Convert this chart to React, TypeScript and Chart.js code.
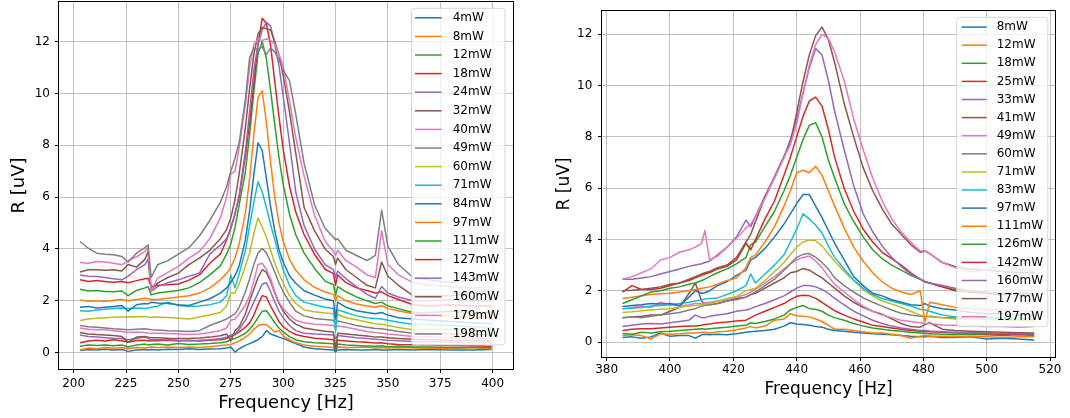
import React, { useEffect, useRef } from "react";
import { Chart, registerables } from "chart.js";

Chart.register(...registerables);

const FONT = "'DejaVu Sans', sans-serif";
const COLORS = ["#1f77b4", "#ff7f0e", "#2ca02c", "#d62728", "#9467bd", "#8c564b", "#e377c2", "#7f7f7f", "#bcbd22", "#17becf"];

// ---------------- Left panel data ----------------
const leftFreq = [203, 207, 211, 215, 219, 223, 226, 230, 234, 235.5, 237, 240, 245, 250, 255, 260, 265, 270, 273, 275, 277, 279, 282, 284, 286, 288, 290, 292, 294, 296, 298, 300, 303, 306, 310, 315, 320, 324, 325, 326, 330, 335, 340, 344, 347, 350, 355, 362, 370, 380, 390, 399.5];
const leftPowers = ["4mW", "8mW", "12mW", "18mW", "24mW", "32mW", "40mW", "49mW", "60mW", "71mW", "84mW", "97mW", "111mW", "127mW", "143mW", "160mW", "179mW", "198mW"];
const leftXTicks = [200, 225, 250, 275, 300, 325, 350, 375, 400];
const leftYTicks = [0, 2, 4, 6, 8, 10, 12];

const L4 = [0.08, 0.12, 0.10, 0.13, 0.10, 0.12, 0.05, 0.10, 0.12, 0.10, 0.12, 0.10, 0.13, 0.12, 0.15, 0.12, 0.14, 0.15, 0.18, 0.22, 0.02, 0.15, 0.28, 0.35, 0.42, 0.50, 0.62, 0.85, 0.72, 0.66, 0.60, 0.55, 0.45, 0.35, 0.22, 0.15, 0.12, 0.10, 0.04, 0.10, 0.12, 0.10, 0.10, 0.12, 0.10, 0.10, 0.12, 0.10, 0.12, 0.10, 0.10, 0.12];
const L8 = [0.10, 0.18, 0.15, 0.20, 0.17, 0.20, 0.15, 0.20, 0.18, 0.20, 0.22, 0.20, 0.22, 0.20, 0.22, 0.20, 0.23, 0.28, 0.30, 0.32, 0.38, 0.45, 0.60, 0.72, 0.90, 1.05, 1.10, 1.08, 0.95, 0.80, 0.85, 0.65, 0.50, 0.38, 0.30, 0.25, 0.23, 0.20, 0.10, 0.22, 0.20, 0.20, 0.22, 0.18, 0.20, 0.18, 0.20, 0.18, 0.17, 0.15, 0.20, 0.15];
const L12 = [0.25, 0.30, 0.28, 0.30, 0.27, 0.30, 0.22, 0.30, 0.33, 0.30, 0.32, 0.33, 0.30, 0.35, 0.32, 0.33, 0.35, 0.38, 0.42, 0.50, 0.55, 0.62, 0.75, 0.90, 1.10, 1.35, 1.60, 1.62, 1.40, 1.15, 0.95, 0.80, 0.62, 0.50, 0.42, 0.38, 0.36, 0.34, 0.02, 0.33, 0.30, 0.28, 0.26, 0.25, 0.27, 0.23, 0.25, 0.22, 0.22, 0.20, 0.20, 0.20];
const L18 = [0.38, 0.45, 0.48, 0.45, 0.50, 0.46, 0.40, 0.47, 0.48, 0.45, 0.47, 0.46, 0.48, 0.45, 0.47, 0.45, 0.48, 0.50, 0.55, 0.62, 0.70, 0.80, 0.98, 1.15, 1.45, 1.85, 2.20, 2.15, 1.80, 1.50, 1.20, 1.00, 0.82, 0.70, 0.62, 0.56, 0.53, 0.50, 0.25, 0.48, 0.45, 0.42, 0.40, 0.37, 0.38, 0.34, 0.32, 0.31, 0.30, 0.28, 0.27, 0.25];
const L24 = [0.68, 0.62, 0.60, 0.58, 0.56, 0.55, 0.50, 0.55, 0.60, 0.55, 0.50, 0.50, 0.50, 0.48, 0.47, 0.48, 0.50, 0.55, 0.60, 0.68, 0.72, 0.90, 1.25, 1.60, 1.95, 2.30, 2.65, 2.70, 2.35, 1.95, 1.60, 1.35, 1.05, 0.85, 0.75, 0.72, 0.70, 0.68, 0.55, 0.66, 0.62, 0.58, 0.55, 0.52, 0.50, 0.48, 0.46, 0.43, 0.42, 0.40, 0.38, 0.37];
const L32 = [0.78, 0.72, 0.70, 0.68, 0.66, 0.62, 0.40, 0.60, 0.62, 0.60, 0.58, 0.58, 0.56, 0.55, 0.55, 0.57, 0.60, 0.65, 0.72, 0.45, 0.85, 1.00, 1.50, 2.00, 2.45, 2.90, 3.20, 3.10, 2.75, 2.30, 1.90, 1.60, 1.30, 1.10, 0.95, 0.88, 0.83, 0.80, 0.05, 0.75, 0.72, 0.68, 0.64, 0.60, 0.60, 0.58, 0.55, 0.52, 0.50, 0.48, 0.47, 0.45];
const L40 = [0.95, 0.90, 0.88, 0.88, 0.85, 0.82, 0.78, 0.80, 0.78, 0.76, 0.75, 0.75, 0.74, 0.72, 0.70, 0.72, 0.78, 0.85, 0.95, 1.25, 1.30, 1.50, 1.85, 2.20, 2.75, 3.40, 3.45, 3.20, 2.85, 2.35, 1.95, 1.70, 1.45, 1.25, 1.15, 1.10, 1.08, 1.05, 0.95, 1.03, 0.98, 0.90, 0.82, 0.78, 0.76, 0.72, 0.68, 0.62, 0.60, 0.58, 0.56, 0.55];
const L49 = [1.05, 1.00, 0.98, 0.95, 0.92, 0.90, 0.88, 0.90, 0.92, 0.90, 0.88, 0.87, 0.85, 0.84, 0.82, 0.85, 1.05, 1.20, 1.30, 1.40, 1.50, 1.75, 2.35, 2.85, 3.40, 3.85, 4.02, 3.85, 3.50, 3.10, 2.70, 2.35, 1.95, 1.60, 1.42, 1.32, 1.28, 1.25, 1.10, 1.22, 1.15, 1.05, 0.98, 0.93, 0.92, 0.88, 0.82, 0.75, 0.75, 0.72, 0.70, 0.68];
const L60 = [1.24, 1.30, 1.33, 1.35, 1.37, 1.38, 1.39, 1.38, 1.40, 1.38, 1.37, 1.38, 1.36, 1.33, 1.30, 1.38, 1.45, 1.55, 1.80, 2.30, 2.30, 2.65, 3.35, 3.85, 4.60, 5.20, 4.85, 4.45, 3.95, 3.45, 3.05, 2.70, 2.20, 1.90, 1.65, 1.58, 1.53, 1.50, 1.30, 1.48, 1.35, 1.27, 1.18, 1.12, 1.10, 1.05, 0.97, 0.88, 0.90, 0.90, 0.88, 0.85];
const L71 = [1.62, 1.60, 1.65, 1.68, 1.70, 1.72, 1.70, 1.72, 1.70, 1.72, 1.75, 1.80, 1.95, 1.82, 1.78, 1.80, 1.85, 1.95, 2.20, 3.00, 2.50, 3.05, 3.95, 4.90, 5.80, 6.60, 6.20, 5.60, 4.95, 4.35, 3.75, 3.20, 2.60, 2.20, 1.95, 1.85, 1.75, 1.70, 0.80, 1.65, 1.55, 1.42, 1.35, 1.32, 1.30, 1.25, 1.17, 1.10, 1.08, 1.05, 1.00, 0.98];
const L84 = [1.75, 1.78, 1.72, 1.75, 1.78, 1.82, 1.60, 1.85, 1.90, 1.88, 1.95, 1.92, 1.90, 1.85, 1.82, 1.95, 2.08, 2.30, 2.50, 2.70, 2.97, 3.35, 4.37, 5.48, 6.87, 8.10, 7.80, 6.72, 5.63, 4.70, 3.97, 3.50, 2.97, 2.68, 2.39, 2.22, 2.07, 2.00, 1.30, 1.95, 1.75, 1.62, 1.55, 1.50, 1.55, 1.45, 1.35, 1.30, 1.25, 1.20, 1.15, 1.12];
const L97 = [2.03, 1.98, 2.00, 1.97, 2.02, 2.05, 2.00, 2.05, 2.10, 2.08, 2.05, 2.05, 2.10, 2.15, 2.20, 2.30, 2.50, 2.81, 3.06, 3.30, 3.65, 4.19, 5.41, 6.73, 8.40, 9.85, 10.10, 8.88, 7.34, 5.98, 5.01, 4.31, 3.60, 3.18, 2.81, 2.52, 2.34, 2.25, 2.00, 2.20, 2.00, 1.88, 1.80, 1.75, 1.82, 1.70, 1.62, 1.50, 1.45, 1.40, 1.38, 1.35];
const L111 = [2.45, 2.38, 2.40, 2.36, 2.35, 2.38, 2.20, 2.40, 2.50, 2.55, 2.23, 2.30, 2.35, 2.40, 2.50, 2.70, 3.00, 3.35, 3.80, 4.20, 4.83, 5.70, 7.00, 8.43, 10.07, 11.53, 12.00, 11.34, 10.10, 8.80, 7.53, 6.49, 5.35, 4.55, 3.84, 3.25, 2.76, 2.62, 2.20, 2.55, 2.35, 2.15, 2.00, 1.90, 1.95, 1.80, 1.70, 1.55, 1.55, 1.60, 1.55, 1.55];
const L127 = [2.81, 2.75, 2.78, 2.75, 2.72, 2.75, 2.70, 2.78, 2.85, 2.87, 2.55, 2.60, 2.62, 2.65, 2.80, 3.00, 3.45, 3.80, 4.35, 4.80, 5.35, 6.00, 7.60, 8.90, 10.40, 11.90, 12.90, 12.70, 11.85, 10.45, 9.10, 7.85, 6.43, 5.43, 4.55, 3.79, 3.22, 3.05, 2.60, 3.00, 2.70, 2.50, 2.40, 2.30, 2.35, 2.20, 2.05, 1.85, 1.80, 1.85, 1.80, 1.80];
const L143 = [3.00, 2.95, 2.94, 2.90, 2.85, 2.81, 2.95, 3.20, 3.40, 3.60, 2.36, 2.55, 2.70, 2.81, 2.95, 3.07, 3.80, 4.15, 4.40, 4.80, 5.35, 6.10, 7.80, 9.30, 10.90, 11.90, 12.45, 12.75, 12.60, 11.90, 11.07, 9.90, 8.10, 6.20, 4.90, 4.00, 3.40, 3.20, 2.90, 3.15, 2.85, 2.55, 2.25, 2.10, 2.55, 2.30, 2.15, 2.00, 2.00, 2.05, 2.00, 2.00];
const L160 = [3.11, 3.20, 3.20, 3.18, 3.20, 3.15, 3.40, 3.30, 3.60, 3.90, 2.42, 2.68, 2.90, 3.07, 3.40, 3.65, 3.95, 4.40, 4.75, 5.20, 5.90, 6.90, 8.70, 10.20, 11.50, 12.30, 12.55, 12.50, 12.45, 12.00, 11.50, 10.70, 9.30, 7.70, 5.60, 4.70, 4.00, 3.70, 3.40, 3.65, 3.20, 2.90, 2.60, 2.50, 3.50, 2.95, 2.60, 2.20, 2.20, 2.20, 2.30, 2.40];
const L179 = [3.48, 3.45, 3.52, 3.50, 3.45, 3.39, 3.55, 3.70, 3.91, 4.05, 2.36, 2.87, 3.10, 3.33, 3.65, 3.90, 4.40, 5.20, 6.00, 6.90, 7.00, 7.90, 9.60, 11.00, 11.90, 12.10, 12.05, 12.10, 12.05, 11.90, 11.50, 11.07, 9.70, 8.30, 6.80, 5.30, 4.30, 3.90, 3.75, 3.95, 3.55, 3.30, 3.00, 2.90, 4.70, 3.40, 3.00, 2.70, 2.60, 2.55, 2.50, 2.55];
const L198 = [4.29, 4.03, 3.84, 3.80, 3.78, 3.71, 3.50, 3.84, 4.05, 4.16, 2.90, 3.39, 3.55, 3.80, 4.05, 4.50, 5.10, 5.80, 6.40, 7.00, 7.50, 8.10, 9.80, 11.40, 11.75, 11.70, 11.80, 11.50, 11.75, 11.60, 11.30, 10.90, 10.50, 9.20, 7.30, 5.70, 4.80, 4.45, 4.35, 4.40, 3.95, 3.75, 3.55, 3.75, 5.50, 4.10, 3.40, 2.90, 2.80, 2.70, 2.80, 3.10];
const leftSeries = [L4, L8, L12, L18, L24, L32, L40, L49, L60, L71, L84, L97, L111, L127, L143, L160, L179, L198];

// ---------------- Right panel data ----------------
const rightFreq = [385, 388, 391, 394, 397, 400, 403, 406, 408, 410, 411, 412.5, 415, 418, 421, 424, 425.5, 427, 430, 433, 436, 438, 440, 442, 444, 446, 448, 450, 452, 455, 458, 461, 464, 467, 470, 473, 476, 479, 480.5, 482, 486, 490, 495, 500, 505, 510, 515];
const rightPowers = ["8mW", "12mW", "18mW", "25mW", "33mW", "41mW", "49mW", "60mW", "71mW", "83mW", "97mW", "111mW", "126mW", "142mW", "160mW", "177mW", "197mW"];
const rightXTicks = [380, 400, 420, 440, 460, 480, 500, 520];
const rightYTicks = [0, 2, 4, 6, 8, 10, 12];

const R8 = [0.18, 0.20, 0.15, 0.20, 0.35, 0.22, 0.25, 0.25, 0.15, 0.28, 0.30, 0.28, 0.30, 0.28, 0.32, 0.38, 0.40, 0.42, 0.45, 0.50, 0.62, 0.75, 0.70, 0.68, 0.65, 0.60, 0.58, 0.50, 0.45, 0.42, 0.38, 0.35, 0.32, 0.30, 0.28, 0.25, 0.22, 0.20, 0.20, 0.22, 0.18, 0.18, 0.20, 0.12, 0.15, 0.12, 0.08];
const R12 = [0.25, 0.28, 0.25, 0.12, 0.32, 0.30, 0.32, 0.35, 0.35, 0.38, 0.38, 0.35, 0.40, 0.42, 0.48, 0.55, 0.60, 0.55, 0.62, 0.85, 0.90, 1.10, 1.02, 1.00, 0.98, 0.90, 0.80, 0.65, 0.50, 0.50, 0.45, 0.40, 0.35, 0.35, 0.30, 0.25, 0.15, 0.22, 0.25, 0.22, 0.22, 0.20, 0.22, 0.20, 0.18, 0.20, 0.20];
const R18 = [0.33, 0.30, 0.38, 0.35, 0.40, 0.42, 0.45, 0.48, 0.50, 0.52, 0.50, 0.52, 0.55, 0.58, 0.62, 0.65, 0.75, 0.72, 0.80, 0.90, 1.05, 1.25, 1.35, 1.42, 1.30, 1.28, 1.20, 1.05, 0.95, 0.85, 0.72, 0.62, 0.55, 0.50, 0.45, 0.42, 0.38, 0.35, 0.33, 0.32, 0.30, 0.28, 0.30, 0.28, 0.25, 0.28, 0.25];
const R25 = [0.45, 0.50, 0.52, 0.52, 0.55, 0.58, 0.60, 0.62, 0.62, 0.65, 0.68, 0.70, 0.75, 0.78, 0.82, 0.85, 0.95, 1.05, 1.20, 1.35, 1.50, 1.65, 1.78, 1.82, 1.80, 1.70, 1.55, 1.38, 1.22, 1.05, 0.90, 0.78, 0.65, 0.60, 0.55, 0.50, 0.45, 0.42, 0.40, 0.40, 0.38, 0.35, 0.35, 0.32, 0.30, 0.30, 0.30];
const R33 = [0.60, 0.65, 0.70, 0.72, 0.70, 0.75, 0.80, 0.85, 1.05, 0.95, 0.95, 1.00, 1.05, 1.10, 1.20, 1.25, 1.30, 1.38, 1.50, 1.65, 1.80, 1.95, 2.10, 2.20, 2.20, 2.15, 2.05, 1.90, 1.70, 1.45, 1.20, 1.02, 0.85, 0.72, 0.62, 0.55, 0.50, 0.45, 0.45, 0.43, 0.40, 0.38, 0.36, 0.35, 0.33, 0.32, 0.30];
const R41 = [0.95, 0.98, 1.00, 1.05, 1.05, 1.20, 1.35, 1.90, 2.30, 1.60, 1.50, 1.45, 1.50, 1.60, 1.70, 1.75, 1.85, 1.90, 2.10, 2.30, 2.50, 2.70, 2.75, 2.87, 2.80, 2.65, 2.50, 2.30, 2.10, 1.80, 1.55, 1.35, 1.20, 1.08, 0.90, 0.72, 0.60, 0.58, 0.68, 0.75, 0.50, 0.45, 0.42, 0.40, 0.38, 0.36, 0.35];
const R49 = [1.30, 1.35, 1.40, 1.35, 1.55, 1.45, 1.40, 1.45, 1.50, 1.50, 1.52, 1.55, 1.60, 1.65, 1.75, 1.85, 1.95, 2.05, 2.30, 2.55, 2.85, 3.05, 3.20, 3.30, 3.35, 3.15, 2.90, 2.55, 2.25, 1.95, 1.65, 1.40, 1.20, 1.05, 0.95, 0.85, 0.80, 0.75, 0.72, 0.72, 0.66, 0.65, 0.62, 0.60, 0.60, 0.58, 0.60];
const R60 = [0.95, 0.98, 0.95, 1.00, 1.05, 1.10, 1.15, 1.25, 1.30, 1.40, 1.42, 1.45, 1.50, 1.60, 1.65, 1.75, 1.85, 1.95, 2.20, 2.45, 2.80, 3.05, 3.30, 3.42, 3.45, 3.30, 3.10, 2.85, 2.50, 2.20, 1.95, 1.72, 1.55, 1.40, 1.25, 1.12, 1.05, 1.00, 0.98, 1.00, 0.95, 0.95, 0.92, 0.90, 0.88, 0.85, 0.85];
const R71 = [1.15, 1.18, 1.22, 1.25, 1.28, 1.30, 1.35, 1.40, 1.42, 1.45, 1.48, 1.50, 1.58, 1.70, 1.78, 2.00, 2.05, 2.10, 2.40, 2.75, 3.10, 3.40, 3.70, 3.90, 3.98, 3.95, 3.75, 3.45, 3.15, 2.75, 2.40, 2.05, 1.80, 1.60, 1.48, 1.35, 1.20, 1.05, 1.00, 0.98, 0.95, 0.90, 0.90, 0.88, 0.85, 0.85, 0.82];
const R83 = [1.30, 1.32, 1.35, 1.40, 1.42, 1.45, 1.50, 1.55, 1.60, 1.65, 1.68, 1.70, 1.72, 1.85, 2.00, 2.20, 2.65, 2.30, 2.65, 3.00, 3.40, 3.90, 4.40, 5.00, 4.80, 4.55, 4.25, 3.75, 3.30, 2.85, 2.42, 2.10, 1.85, 1.70, 1.60, 1.50, 1.40, 1.28, 1.25, 1.20, 1.05, 0.98, 1.00, 0.95, 0.95, 0.92, 0.90];
const R97 = [1.38, 1.42, 1.45, 1.50, 1.48, 1.50, 1.42, 1.75, 2.00, 1.90, 1.92, 2.00, 2.20, 2.35, 2.60, 2.80, 3.20, 3.30, 3.65, 4.10, 4.60, 5.00, 5.40, 5.75, 5.75, 5.30, 4.85, 4.35, 3.85, 3.20, 2.55, 2.20, 1.90, 1.80, 1.65, 1.55, 1.45, 1.42, 1.50, 1.40, 1.30, 1.25, 1.15, 1.10, 1.10, 1.05, 1.05];
const R111 = [1.70, 1.75, 1.80, 1.85, 1.88, 1.90, 1.95, 2.00, 2.05, 2.10, 2.12, 2.15, 2.25, 2.40, 2.50, 2.90, 3.30, 3.40, 3.90, 4.50, 5.30, 5.90, 6.60, 6.70, 6.60, 6.85, 6.50, 5.90, 5.30, 4.45, 3.70, 3.15, 2.70, 2.35, 2.10, 1.95, 1.85, 2.00, 0.80, 1.55, 1.45, 1.35, 1.30, 1.28, 1.25, 1.22, 1.20];
const R126 = [1.50, 1.65, 1.80, 1.95, 2.00, 2.10, 2.15, 2.25, 2.30, 2.40, 2.45, 2.55, 2.70, 2.85, 3.05, 3.30, 3.80, 3.90, 4.50, 5.10, 5.90, 6.50, 7.20, 7.90, 8.45, 8.55, 8.00, 7.10, 6.40, 5.40, 4.70, 4.10, 3.60, 3.25, 3.00, 2.80, 2.60, 2.45, 2.35, 2.30, 2.15, 2.05, 1.95, 1.90, 1.85, 1.85, 1.85];
const R142 = [1.95, 2.20, 2.05, 2.05, 2.10, 2.20, 2.30, 2.40, 2.50, 2.60, 2.65, 2.70, 2.85, 2.95, 3.20, 3.85, 3.60, 4.00, 4.80, 5.50, 6.50, 7.20, 8.00, 8.80, 9.40, 9.55, 9.20, 8.30, 7.20, 6.00, 5.10, 4.40, 3.90, 3.50, 3.25, 3.00, 2.70, 2.45, 2.35, 2.30, 2.15, 2.00, 1.95, 1.90, 1.85, 1.85, 1.80];
const R160 = [2.45, 2.45, 2.50, 2.55, 2.65, 2.75, 2.85, 2.95, 3.00, 3.05, 3.10, 3.15, 3.40, 3.70, 4.10, 4.75, 4.50, 4.90, 5.70, 6.40, 7.20, 7.90, 8.70, 9.70, 10.70, 11.45, 11.20, 10.20, 9.00, 7.50, 6.10, 5.00, 4.30, 3.75, 3.30, 2.95, 2.65, 2.45, 2.35, 2.30, 2.20, 2.10, 2.00, 1.95, 1.90, 1.90, 1.90];
const R177 = [2.00, 2.02, 2.05, 2.10, 2.15, 2.25, 2.30, 2.45, 2.55, 2.65, 2.70, 2.75, 2.90, 3.00, 3.30, 3.90, 4.20, 4.70, 5.66, 6.45, 7.25, 7.75, 8.95, 10.15, 11.20, 11.95, 12.28, 11.80, 10.90, 9.30, 8.00, 6.80, 5.90, 5.20, 4.60, 4.20, 3.80, 3.50, 3.55, 3.45, 3.10, 2.95, 2.85, 2.80, 2.75, 2.70, 2.70];
const R197 = [2.45, 2.55, 2.70, 2.85, 3.20, 3.30, 3.50, 3.60, 3.70, 3.85, 4.35, 3.20, 3.35, 3.70, 4.05, 4.45, 4.60, 4.90, 5.60, 6.40, 7.20, 7.70, 8.50, 9.70, 10.80, 11.60, 12.00, 11.85, 11.30, 10.20, 8.70, 7.50, 6.40, 5.50, 4.80, 4.30, 3.90, 3.55, 3.55, 3.45, 3.10, 2.90, 2.75, 2.80, 3.00, 2.85, 2.75];
const rightSeries = [R8, R12, R18, R25, R33, R41, R49, R60, R71, R83, R97, R111, R126, R142, R160, R177, R197];

// ---------------- Panel layout specs ----------------
type LegendSpec = { x0: number; y0: number; x1: number; y1: number; firstY: number; stepY: number; h0: number; h1: number; tx: number };
type PanelSpec = {
  offsetX: number; width: number; height: number;
  freq: number[]; series: number[][]; names: string[];
  xMin: number; xMax: number; yMin: number; yMax: number;
  xTicks: number[]; yTicks: number[];
  area: { left: number; right: number; top: number; bottom: number };
  titleSize: number; yTitlePad: number; xTitlePad: number; xTickPad: number; yTickPad: number;
  legend: LegendSpec;
};

const leftSpec: PanelSpec = {
  offsetX: 0, width: 535, height: 418,
  freq: leftFreq, series: leftSeries, names: leftPowers,
  xMin: 193.0, xMax: 409.7, yMin: -0.63, yMax: 13.53,
  xTicks: leftXTicks, yTicks: leftYTicks,
  area: { left: 59, right: 513, top: 2, bottom: 369 },
  titleSize: 18, yTitlePad: 8.4, xTitlePad: 4.1, xTickPad: 4, yTickPad: 5,
  legend: { x0: 411.5, y0: 8.3, x1: 505, y1: 345, firstY: 17.8, stepY: 18.6, h0: 415, h1: 441.7, tx: 452.7 },
};

const rightSpec: PanelSpec = {
  offsetX: 535, width: 535, height: 418,
  freq: rightFreq, series: rightSeries, names: rightPowers,
  xMin: 378.53, xMax: 521.57, yMin: -0.585, yMax: 12.91,
  xTicks: rightXTicks, yTicks: rightYTicks,
  area: { left: 67, right: 520, top: 11, bottom: 357 },
  titleSize: 17, yTitlePad: 19, xTitlePad: 18, xTickPad: 2, yTickPad: 5.7,
  legend: { x0: 956.7, y0: 17.3, x1: 1047.8, y1: 326.7, firstY: 27.1, stepY: 18.1, h0: 961.7, h1: 986.7, tx: 996.7 },
};

const framePlugin = {
  id: "mplFrame",
  afterDatasetsDraw(chart: any) {
    const { ctx, chartArea: a } = chart;
    ctx.save();
    ctx.strokeStyle = "#000";
    ctx.lineWidth = 1;
    ctx.strokeRect(a.left - 0.5, a.top - 0.5, a.right - a.left + 1, a.bottom - a.top + 1);
    ctx.restore();
  },
};

function makeLegendPlugin(spec: PanelSpec) {
  return {
    id: "mplLegend",
    afterDraw(chart: any) {
      const ctx = chart.ctx as CanvasRenderingContext2D;
      const L = spec.legend;
      const ox = spec.offsetX;
      const x0 = L.x0 - ox, x1 = L.x1 - ox, y0 = L.y0, y1 = L.y1, r = 3;
      ctx.save();
      ctx.beginPath();
      ctx.moveTo(x0 + r, y0);
      ctx.lineTo(x1 - r, y0);
      ctx.quadraticCurveTo(x1, y0, x1, y0 + r);
      ctx.lineTo(x1, y1 - r);
      ctx.quadraticCurveTo(x1, y1, x1 - r, y1);
      ctx.lineTo(x0 + r, y1);
      ctx.quadraticCurveTo(x0, y1, x0, y1 - r);
      ctx.lineTo(x0, y0 + r);
      ctx.quadraticCurveTo(x0, y0, x0 + r, y0);
      ctx.closePath();
      ctx.fillStyle = "rgba(255,255,255,0.8)";
      ctx.fill();
      ctx.strokeStyle = "rgba(204,204,204,0.8)";
      ctx.lineWidth = 1;
      ctx.stroke();
      ctx.font = `12px ${FONT}`;
      ctx.textBaseline = "middle";
      ctx.textAlign = "left";
      spec.names.forEach((name, i) => {
        const y = L.firstY + i * L.stepY;
        ctx.beginPath();
        ctx.strokeStyle = COLORS[i % COLORS.length];
        ctx.lineWidth = 1.5;
        ctx.moveTo(L.h0 - ox, y);
        ctx.lineTo(L.h1 - ox, y);
        ctx.stroke();
        ctx.fillStyle = "#000";
        ctx.fillText(name, L.tx - ox, y);
      });
      ctx.restore();
    },
  };
}

function Panel({ spec }: { spec: PanelSpec }) {
  const ref = useRef<HTMLCanvasElement>(null);
  useEffect(() => {
    const canvas = ref.current;
    if (!canvas) return;
    const n = spec.series.length;
    const chart = new Chart(canvas, {
      type: "line",
      data: {
        datasets: spec.series.map((vals, i) => ({
          label: spec.names[i],
          data: spec.freq.map((f, j) => ({ x: f, y: vals[j] })),
          borderColor: COLORS[i % COLORS.length],
          backgroundColor: COLORS[i % COLORS.length],
          borderWidth: 1.5,
          borderJoinStyle: "round" as const,
          pointRadius: 0,
          pointHoverRadius: 0,
          fill: false,
          tension: 0,
          order: n - i,
        })),
      },
      options: {
        responsive: false,
        animation: false,
        devicePixelRatio: 1,
        events: [],
        layout: { padding: { left: 0, top: spec.area.top, right: spec.width - spec.area.right, bottom: 0 } },
        plugins: { legend: { display: false }, tooltip: { enabled: false } },
        scales: {
          x: {
            type: "linear",
            min: spec.xMin,
            max: spec.xMax,
            afterBuildTicks: (s: any) => { s.ticks = spec.xTicks.map((v) => ({ value: v })); },
            afterFit: (s: any) => { s.height = spec.height - spec.area.bottom; s.paddingLeft = 0; s.paddingRight = 0; },
            border: { display: false },
            grid: { color: "#b0b0b0", lineWidth: 0.8, drawTicks: true, tickLength: 4, tickColor: "#000", tickWidth: 1 },
            ticks: { color: "#000", font: { family: FONT, size: 12 }, padding: spec.xTickPad, maxRotation: 0, autoSkip: false },
            title: { display: true, text: "Frequency [Hz]", color: "#000", font: { family: FONT, size: spec.titleSize }, padding: { top: 0, bottom: spec.xTitlePad } },
          },
          y: {
            type: "linear",
            min: spec.yMin,
            max: spec.yMax,
            afterBuildTicks: (s: any) => { s.ticks = spec.yTicks.map((v) => ({ value: v })); },
            afterFit: (s: any) => { s.width = spec.area.left; s.paddingTop = 0; s.paddingBottom = 0; },
            border: { display: false },
            grid: { color: "#b0b0b0", lineWidth: 0.8, drawTicks: true, tickLength: 4, tickColor: "#000", tickWidth: 1 },
            ticks: { color: "#000", font: { family: FONT, size: 12 }, padding: spec.yTickPad, autoSkip: false },
            title: { display: true, text: "R [uV]", color: "#000", font: { family: FONT, size: spec.titleSize }, padding: { top: spec.yTitlePad, bottom: 0 } },
          },
        },
      } as any,
      plugins: [framePlugin, makeLegendPlugin(spec)],
    });
    return () => chart.destroy();
  }, [spec]);
  return (
    <canvas
      ref={ref}
      width={spec.width}
      height={spec.height}
      style={{ position: "absolute", left: spec.offsetX, top: 0, width: spec.width, height: spec.height }}
    />
  );
}

export default function App() {
  return (
    <div style={{ position: "absolute", left: 0, top: 0, width: 1070, height: 418, background: "#fff", overflow: "hidden" }}>
      <Panel spec={leftSpec} />
      <Panel spec={rightSpec} />
    </div>
  );
}
